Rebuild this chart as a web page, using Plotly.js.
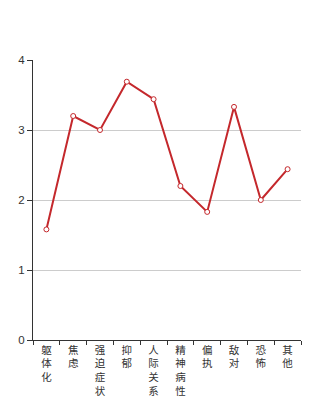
<!DOCTYPE html>
<html>
<head>
<meta charset="utf-8">
<script src="https://cdn.plot.ly/plotly-3.0.1.min.js"></script>
<style>html,body{margin:0;padding:0;background:#fff;}#chart{width:334px;height:400px;}</style>
</head>
<body>
<div id="chart"></div>
<script>
var categories = ["躯体化", "焦虑", "强迫症状", "抑郁", "人际关系", "精神病性", "偏执", "敌对", "恐怖", "其他"];
var values = [1.58, 3.2, 3.0, 3.69, 3.44, 2.2, 1.83, 3.33, 2.0, 2.44];
var yTicks = [0, 1, 2, 3, 4];

var verticalLabels = categories.map(function (c) { return c.split("").join("<br>"); });

var trace = {
  type: "scatter",
  mode: "lines+markers",
  x: categories,
  y: values,
  line: { color: "#c4282c", width: 2 },
  marker: { symbol: "circle", size: 5, color: "#ffffff", line: { color: "#c4282c", width: 1 } },
  hoverinfo: "x+y"
};

var layout = {
  width: 334,
  height: 400,
  margin: { l: 33, r: 33, t: 60, b: 60, pad: 0 },
  paper_bgcolor: "#ffffff",
  plot_bgcolor: "#ffffff",
  showlegend: false,
  font: { family: "Liberation Sans, Arial, sans-serif", color: "#333", size: 11 },
  xaxis: {
    type: "category",
    range: [-0.5, categories.length - 0.5],
    tickmode: "array",
    tickvals: categories,
    ticktext: verticalLabels,
    tickson: "boundaries",
    ticks: "outside",
    ticklen: 4,
    tickcolor: "#333",
    tickangle: 0,
    tickfont: { family: "Noto Sans CJK SC", size: 10.5, color: "#333" },
    showline: true,
    linecolor: "#333",
    linewidth: 1,
    showgrid: false,
    zeroline: false,
    fixedrange: true
  },
  yaxis: {
    range: [0, 4],
    tickmode: "array",
    tickvals: yTicks,
    ticktext: yTicks.map(String),
    ticks: "outside",
    ticklen: 5,
    tickcolor: "#333",
    tickfont: { size: 11.5, color: "#333" },
    showline: true,
    linecolor: "#333",
    linewidth: 1,
    showgrid: true,
    gridcolor: "#cccccc",
    gridwidth: 1,
    zeroline: false,
    fixedrange: true
  }
};

Plotly.newPlot("chart", [trace], layout, { displayModeBar: false, staticPlot: true });
</script>
</body>
</html>
